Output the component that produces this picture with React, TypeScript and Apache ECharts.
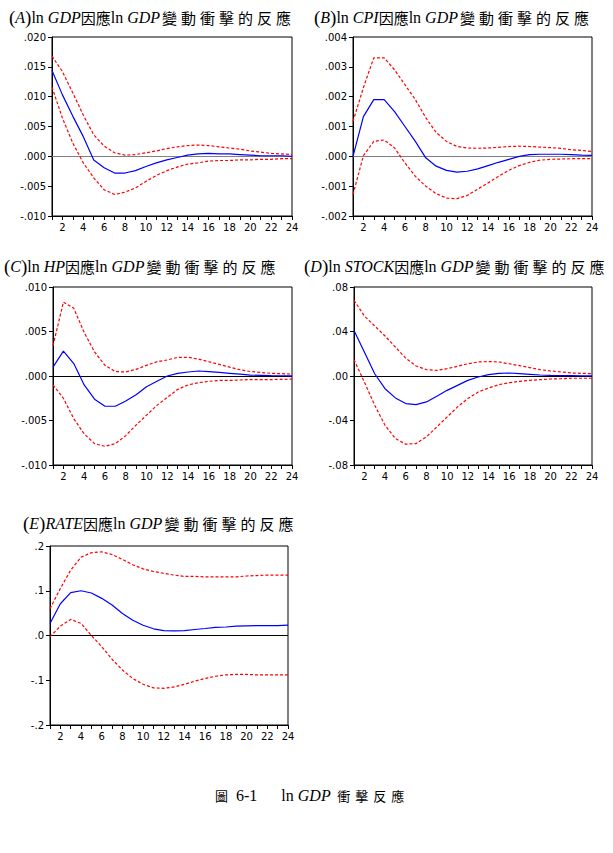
import React, { useEffect, useRef } from 'react';
import * as echarts from 'echarts';

const periods = [1, 2, 3, 4, 5, 6, 7, 8, 9, 10, 11, 12, 13, 14, 15, 16, 17, 18, 19, 20, 21, 22, 23, 24];

// (A) ln GDP response to ln GDP shock
const aResponse = [0.0144, 0.0103, 0.0067, 0.0033, -0.0006, -0.0019, -0.0028, -0.0028, -0.0024, -0.0017, -0.0011, -0.0006, -0.0002, 0.0002, 0.0004, 0.0005, 0.0004, 0.0004, 0.0003, 0.0002, 0.0001, 0.0001, 0.0001, 0.0];
const aUpper = [0.0168, 0.0142, 0.0106, 0.0069, 0.0036, 0.0017, 0.0006, 0.0002, 0.0003, 0.0006, 0.0009, 0.0013, 0.0016, 0.0018, 0.0019, 0.0018, 0.0016, 0.0014, 0.0012, 0.0009, 0.0007, 0.0005, 0.0004, 0.0003];
const aLower = [0.0116, 0.0064, 0.0022, -0.0011, -0.0036, -0.0056, -0.0064, -0.006, -0.0053, -0.0042, -0.0032, -0.0024, -0.0018, -0.0013, -0.0011, -0.0008, -0.0007, -0.0007, -0.0006, -0.0006, -0.0005, -0.0005, -0.0004, -0.0004];

// (B) ln CPI
const bResponse = [0.0, 0.00133, 0.0019, 0.0019, 0.0015, 0.001, 0.0005, -0.00005, -0.00033, -0.00047, -0.00053, -0.0005, -0.00042, -0.00031, -0.0002, -0.0001, 0.0, 0.00006, 0.00007, 0.00007, 0.00007, 0.00006, 0.00004, 0.00003];
const bUpper = [0.00117, 0.0023, 0.0033, 0.0033, 0.0029, 0.0024, 0.0019, 0.0013, 0.0008, 0.0005, 0.00033, 0.00028, 0.00027, 0.00028, 0.0003, 0.00033, 0.00034, 0.00033, 0.00031, 0.00029, 0.00027, 0.00022, 0.0002, 0.00016];
const bLower = [-0.00128, 0.00002, 0.0005, 0.00055, 0.00028, -0.00022, -0.00067, -0.001, -0.00125, -0.0014, -0.00142, -0.00131, -0.0011, -0.00089, -0.00067, -0.00047, -0.00031, -0.0002, -0.00013, -0.0001, -0.00009, -0.00008, -0.00008, -0.00008];

// (C) ln HP
const cResponse = [0.001, 0.0028, 0.0014, -0.001, -0.0026, -0.0034, -0.0034, -0.0028, -0.0021, -0.0012, -0.0006, 0.0, 0.0003, 0.00045, 0.00056, 0.0005, 0.0004, 0.0003, 0.0002, 0.0001, 0.00007, 0.00004, 0.00003, 0.00002];
const cUpper = [0.0034, 0.0083, 0.0076, 0.0049, 0.0027, 0.0012, 0.0005, 0.00045, 0.00075, 0.0012, 0.0016, 0.0018, 0.0021, 0.0021, 0.0019, 0.0016, 0.0013, 0.001, 0.0007, 0.0005, 0.0004, 0.0003, 0.00026, 0.00022];
const cLower = [-0.001, -0.0025, -0.0048, -0.0065, -0.0076, -0.0079, -0.0076, -0.0067, -0.0055, -0.0044, -0.0033, -0.0024, -0.0015, -0.001, -0.00075, -0.0006, -0.0005, -0.0005, -0.00045, -0.0004, -0.0004, -0.0004, -0.00038, -0.00035];

// (D) ln STOCK
const dResponse = [0.041, 0.0215, 0.002, -0.0114, -0.0197, -0.0248, -0.0257, -0.0233, -0.0182, -0.0129, -0.0084, -0.0039, -0.0009, 0.0012, 0.0024, 0.0027, 0.0021, 0.0015, 0.0009, 0.0006, 0.0004, 0.0003, 0.0002, 0.0001];
const dUpper = [0.068, 0.054, 0.045, 0.036, 0.026, 0.016, 0.009, 0.0057, 0.005, 0.0066, 0.0087, 0.011, 0.0126, 0.013, 0.0126, 0.011, 0.0093, 0.0075, 0.0057, 0.0045, 0.0036, 0.0027, 0.0024, 0.0021];
const dLower = [0.0147, -0.0054, -0.0263, -0.0443, -0.0562, -0.0613, -0.0607, -0.0547, -0.0458, -0.0368, -0.0278, -0.0203, -0.0144, -0.0108, -0.0078, -0.006, -0.0048, -0.0039, -0.0033, -0.0027, -0.0024, -0.002, -0.002, -0.002];

// (E) RATE
const eResponse = [0.027, 0.071, 0.096, 0.1, 0.095, 0.083, 0.068, 0.049, 0.034, 0.023, 0.015, 0.011, 0.0104, 0.011, 0.0134, 0.0156, 0.018, 0.019, 0.021, 0.0216, 0.022, 0.022, 0.022, 0.023];
const eUpper = [0.06, 0.105, 0.146, 0.175, 0.185, 0.187, 0.181, 0.17, 0.158, 0.149, 0.143, 0.139, 0.135, 0.132, 0.132, 0.131, 0.131, 0.131, 0.131, 0.133, 0.134, 0.135, 0.135, 0.135];
const eLower = [-0.003, 0.021, 0.036, 0.027, 0.0, -0.025, -0.053, -0.077, -0.096, -0.109, -0.117, -0.118, -0.115, -0.109, -0.102, -0.096, -0.091, -0.088, -0.087, -0.087, -0.088, -0.088, -0.088, -0.088];

// y-axis scales: [min, max, interval, decimals]
const aScale = [-0.01, 0.02, 0.005, 3];
const bScale = [-0.002, 0.004, 0.001, 3];
const cScale = [-0.01, 0.01, 0.005, 3];
const dScale = [-0.08, 0.08, 0.04, 2];
const eScale = [-0.2, 0.2, 0.1, 1];

const spaced = (s: string, tok: string) => s.split('').map((ch) => `{${tok}|${ch}}`).join('');
const tail = '{p|ln }{i|GDP}' + spaced('變動衝擊的反應', 'w');

const aTitle = '{b|(}{i|A}{b|)}{p|ln }{i|GDP}{c|因應}' + tail;
const bTitle = '{b|(}{i|B}{b|)}{p|ln }{i|CPI}{c|因應}' + tail;
const cTitle = '{b|(}{i|C}{b|)}{p|ln }{i|HP}{c|因應}' + tail;
const dTitle = '{b|(}{i|D}{b|)}{p|ln }{i|STOCK}{c|因應}' + tail;
const eTitle = '{b|(}{i|E}{b|)}{i|RATE}{c|因應}' + tail;
const captionText = '{c|圖}{p|  6-1      ln }{i|GDP}{p| }' + spaced('衝擊反應', 'w');

const panels = [
  { title: aTitle, scale: aScale, response: aResponse, upper: aUpper, lower: aLower, zero: '#808080' },
  { title: bTitle, scale: bScale, response: bResponse, upper: bUpper, lower: bLower, zero: '#808080' },
  { title: cTitle, scale: cScale, response: cResponse, upper: cUpper, lower: cLower, zero: '#000000' },
  { title: dTitle, scale: dScale, response: dResponse, upper: dUpper, lower: dLower, zero: '#000000' },
  { title: eTitle, scale: eScale, response: eResponse, upper: eUpper, lower: eLower, zero: '#000000' },
];

// layout (pixels)
const layout = [
  { grid: { left: 52, top: 37, width: 240, height: 179 }, titleLeft: 9, titleTop: 6 },
  { grid: { left: 353, top: 37, width: 239, height: 179 }, titleLeft: 314, titleTop: 6 },
  { grid: { left: 53, top: 287, width: 239, height: 178 }, titleLeft: 4, titleTop: 255 },
  { grid: { left: 354, top: 287, width: 238, height: 178 }, titleLeft: 304, titleTop: 255 },
  { grid: { left: 50, top: 546, width: 238, height: 179 }, titleLeft: 23, titleTop: 512 },
];

const serif = 'Liberation Serif';
const cjk = 'Noto Sans CJK TC';
const richStyles = {
  b: { fontFamily: serif, fontSize: 19, fontWeight: 'normal', color: '#000', lineHeight: 22 },
  p: { fontFamily: serif, fontSize: 16, fontWeight: 'normal', color: '#000', lineHeight: 22 },
  i: { fontFamily: serif, fontStyle: 'italic', fontSize: 16, fontWeight: 'normal', color: '#000', lineHeight: 22 },
  c: { fontFamily: cjk, fontSize: 15, fontWeight: 'normal', color: '#000', lineHeight: 22 },
  w: { fontFamily: cjk, fontSize: 15, fontWeight: 'normal', color: '#000', lineHeight: 22, padding: [0, 2, 0, 2] },
};
const captionStyles = {
  p: { fontFamily: serif, fontSize: 16, fontWeight: 'normal', color: '#000', lineHeight: 20 },
  i: { fontFamily: serif, fontStyle: 'italic', fontSize: 16, fontWeight: 'normal', color: '#000', lineHeight: 20 },
  c: { fontFamily: cjk, fontSize: 13, fontWeight: 'normal', color: '#000', lineHeight: 20 },
  w: { fontFamily: cjk, fontSize: 13, fontWeight: 'normal', color: '#000', lineHeight: 20, padding: [0, 2.5, 0, 2.5] },
};

function fmt(dec: number) {
  return (v: number) => {
    const s = Math.abs(v).toFixed(dec).replace(/^0/, '');
    return v < -1e-12 ? '-' + s : s;
  };
}

function buildOption() {
  const grids: any[] = [];
  const xAxes: any[] = [];
  const yAxes: any[] = [];
  const series: any[] = [];
  const titles: any[] = [];
  panels.forEach((p, k) => {
    const L = layout[k];
    grids.push({ ...L.grid, show: true, borderColor: '#000', borderWidth: 1, backgroundColor: 'transparent' });
    titles.push({
      text: p.title,
      left: L.titleLeft,
      top: L.titleTop,
      padding: 0,
      textStyle: { fontWeight: 'normal', rich: richStyles },
    });
    xAxes.push({
      type: 'value',
      gridIndex: k,
      min: 1,
      max: 24,
      interval: 1,
      axisLine: { show: true, onZero: false, lineStyle: { color: '#000', width: 1 } },
      axisTick: { show: true, length: 4, inside: false, lineStyle: { color: '#000' } },
      axisLabel: {
        margin: 6,
        color: '#000',
        fontFamily: 'DejaVu Sans',
        fontSize: 10,
        formatter: (v: number) => (v % 2 === 0 ? String(v) : ''),
      },
      splitLine: { show: false },
    });
    const [mn, mx, iv, dec] = p.scale;
    yAxes.push({
      type: 'value',
      gridIndex: k,
      min: mn,
      max: mx,
      interval: iv,
      axisLine: { show: true, lineStyle: { color: '#000', width: 1 } },
      axisTick: { show: true, length: 4, inside: false, lineStyle: { color: '#000' } },
      axisLabel: {
        margin: 6,
        color: '#000',
        fontFamily: 'DejaVu Sans',
        fontSize: 10,
        formatter: fmt(dec),
      },
      splitLine: { show: false },
    });
    const toData = (arr: number[]) => periods.map((t, i) => [t, arr[i]]);
    series.push({
      type: 'line',
      xAxisIndex: k,
      yAxisIndex: k,
      data: toData(p.response),
      symbol: 'none',
      lineStyle: { color: '#0000ff', width: 1.2 },
      z: 3,
      markLine: {
        silent: true,
        symbol: 'none',
        label: { show: false },
        lineStyle: { color: p.zero, width: 1.2, type: 'solid' },
        data: [{ yAxis: 0 }],
        z: 1,
      },
    });
    series.push({
      type: 'line',
      xAxisIndex: k,
      yAxisIndex: k,
      data: toData(p.upper),
      symbol: 'none',
      lineStyle: { color: '#ff0000', width: 1.2, type: [3, 2] },
      z: 2,
    });
    series.push({
      type: 'line',
      xAxisIndex: k,
      yAxisIndex: k,
      data: toData(p.lower),
      symbol: 'none',
      lineStyle: { color: '#ff0000', width: 1.2, type: [3, 2] },
      z: 2,
    });
  });
  titles.push({
    text: captionText,
    left: 215,
    top: 785,
    padding: 0,
    textStyle: { fontWeight: 'normal', rich: captionStyles },
  });
  return {
    animation: false,
    backgroundColor: '#ffffff',
    title: titles,
    grid: grids,
    xAxis: xAxes,
    yAxis: yAxes,
    series,
  };
}

export default function App() {
  const ref = useRef<HTMLDivElement>(null);
  useEffect(() => {
    const chart = echarts.init(ref.current!, null, { renderer: 'svg' });
    chart.setOption(buildOption() as any);
    return () => chart.dispose();
  }, []);
  return (
    <div
      ref={ref}
      style={{ position: 'absolute', left: 0, top: 0, width: 613, height: 853, background: '#fff' }}
    />
  );
}
